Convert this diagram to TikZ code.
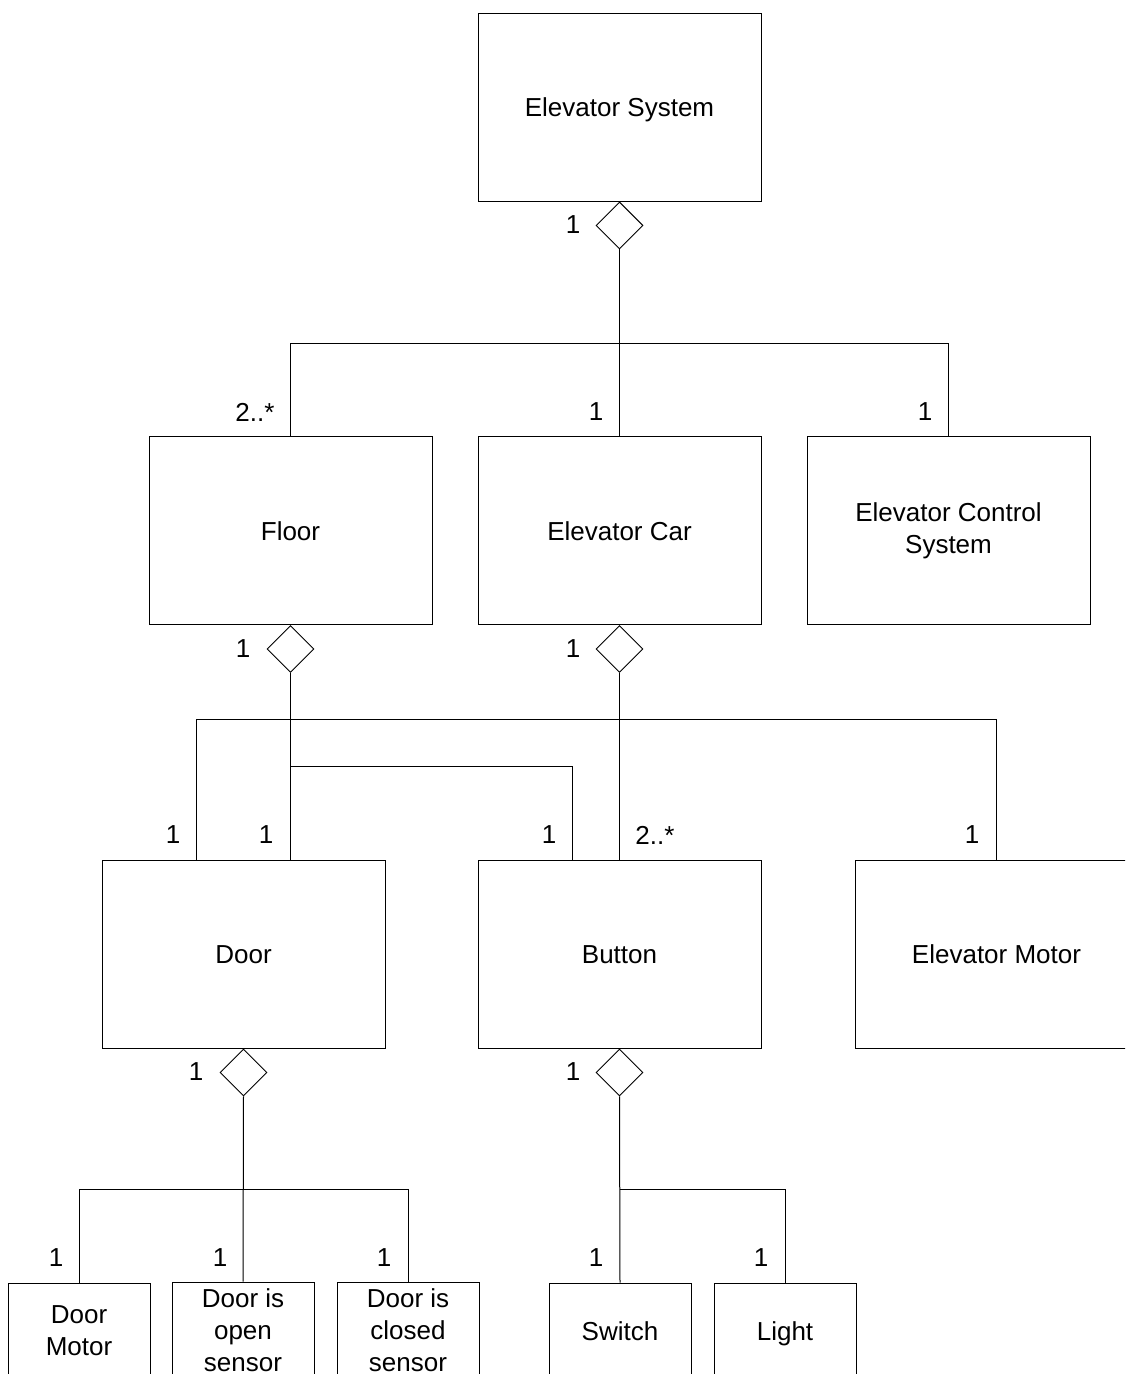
\documentclass[tikz,border=0pt]{standalone}
\usepackage{fontspec}
\setmainfont{Liberation Sans}
\usetikzlibrary{shapes.geometric}
\begin{document}
\begin{tikzpicture}[x=1pt,y=-1pt,
  txt/.style={font=\fontsize{26}{32}\selectfont},
  cls/.style={txt, draw=black, line width=1pt, minimum width=283pt, minimum height=188pt,
    align=center, inner sep=0pt},
  part/.style={txt, draw=black, line width=1pt, minimum width=142pt, minimum height=96pt,
    align=center, inner sep=0pt},
  oneline/.style={text height=19pt, text depth=0pt},
  agg/.style={diamond, draw=black, line width=0.9pt, fill=white, minimum width=47pt,
    minimum height=47pt, inner sep=0pt, anchor=north},
  link/.style={draw=black, line width=1pt},
  mult/.style={txt, inner sep=0pt}]
\useasboundingbox (0,0) rectangle (1125,1374);
\clip (0,0) rectangle (1125,1374);

% classes
\node[cls, oneline] (sys)    at (619.5,107)   {Elevator System};
\node[cls, oneline] (floor)  at (290.5,530.5) {Floor};
\node[cls, oneline] (car)    at (619.5,530.5) {Elevator Car};
\node[cls]          (ctrl)   at (948.5,530.5) {Elevator Control\\System};
\node[cls, oneline] (door)   at (243.5,954)   {Door};
\node[cls, oneline] (button) at (619.5,954)   {Button};
\node[cls, oneline] (motor)  at (996.5,954)   {Elevator Motor};

\node[part]          (dmotor)  at (79,1331)  {Door\\Motor};
\node[part]          (dopen)   at (243,1330) {Door is\\open\\sensor};
\node[part]          (dclosed) at (408,1330) {Door is\\closed\\sensor};
\node[part, oneline] (switch)  at (620,1331) {Switch};
\node[part, oneline] (light)   at (785,1331) {Light};

% aggregation diamonds
\node[agg] (sysA)   at (sys.south)    {};
\node[agg] (floorA) at (floor.south)  {};
\node[agg] (carA)   at (car.south)    {};
\node[agg] (doorA)  at (door.south)   {};
\node[agg] (btnA)   at (button.south) {};

% horizontal bus levels
\coordinate (bus1) at (0,343);
\coordinate (bus2) at (0,719);
\coordinate (bus3) at (0,766);
\coordinate (bus4) at (0,1189);

% Elevator System
\draw[link] (sysA.south) -- (car.north);
\draw[link] (sysA.south |- bus1) -| (floor.north);
\draw[link] (sysA.south |- bus1) -| (ctrl.north);

% Floor
\draw[link] (floorA.south) -- (floorA.south |- door.north);
\draw[link] (floorA.south |- bus3) -| ([xshift=-47pt]button.north);

% Elevator Car
\draw[link] (carA.south) -- (button.north);
\draw[link] (carA.south |- bus2) -| ([xshift=-47pt]door.north);
\draw[link] (carA.south |- bus2) -| (motor.north);

% Door
\draw[link] (doorA.south) -- (dopen.north);
\draw[link] (doorA.south |- bus4) -| (dmotor.north);
\draw[link] (doorA.south |- bus4) -| (dclosed.north);

% Button
\draw[link] (btnA.south) -- (switch.north);
\draw[link] (btnA.south |- bus4) -| (light.north);

% multiplicities
\node[mult] (m1)  at (573,225)  {1};
\node[mult] (m2)  at (255,412)  {2..*};
\node[mult] (m3)  at (596,412)  {1};
\node[mult] (m4)  at (925,412)  {1};
\node[mult] (m5)  at (243,649)  {1};
\node[mult] (m6)  at (573,649)  {1};
\node[mult] (m7)  at (173,835)  {1};
\node[mult] (m8)  at (266,835)  {1};
\node[mult] (m9)  at (549,835)  {1};
\node[mult] (m10) at (655,835)  {2..*};
\node[mult] (m11) at (972,835)  {1};
\node[mult] (m12) at (196,1072) {1};
\node[mult] (m13) at (573,1072) {1};
\node[mult] (m14) at (56,1258)  {1};
\node[mult] (m15) at (220,1258) {1};
\node[mult] (m16) at (384,1258) {1};
\node[mult] (m17) at (596,1258) {1};
\node[mult] (m18) at (761,1258) {1};
\end{tikzpicture}
\end{document}
